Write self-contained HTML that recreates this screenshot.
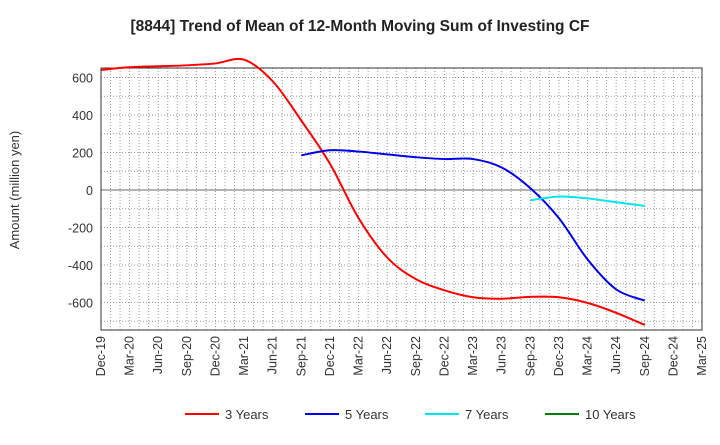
<!DOCTYPE html>
<html><head><meta charset="utf-8"><style>
body{margin:0;background:#fff;font-family:"Liberation Sans",sans-serif}
</style></head><body>
<svg id="c" width="720" height="440" xmlns="http://www.w3.org/2000/svg" font-family="Liberation Sans, sans-serif"></svg>
<script>
const categories=["Dec-19","Mar-20","Jun-20","Sep-20","Dec-20","Mar-21","Jun-21","Sep-21","Dec-21","Mar-22","Jun-22","Sep-22","Dec-22","Mar-23","Jun-23","Sep-23","Dec-23","Mar-24","Jun-24","Sep-24","Dec-24","Mar-25"];
const yTicks=[600,400,200,0,-200,-400,-600];
const s3=[640,655,660,665,675,695,580,370,140,-150,-360,-475,-535,-572,-580,-570,-572,-602,-655,-720];
const s5=[null,null,null,null,null,null,null,185,212,205,190,175,165,165,120,10,-150,-370,-530,-590];
const s7=[null,null,null,null,null,null,null,null,null,null,null,null,null,null,null,-55,-35,-45,-65,-85];
const s10=[];
const NS="http://www.w3.org/2000/svg",svg=document.getElementById('c');
const L=101,R=702,T=68,B=330;
const x=i=>L+(R-L)*i/21, y=v=>190-v*0.1875;
function el(t,a,p){const e=document.createElementNS(NS,t);for(const k in a)e.setAttribute(k,a[k]);(p||svg).appendChild(e);return e;}
const title=el('text',{x:360,y:31,'text-anchor':'middle','font-size':15.5,'font-weight':'bold',fill:'#222'});title.textContent="[8844]  Trend of Mean of 12-Month Moving Sum of Investing CF";


const g=el('g',{});


for(let m=0;m<=63;m++){const xx=L+(R-L)*m/63;el('line',{x1:xx,x2:xx,y1:T,y2:B,stroke:'#999','stroke-width':1,'stroke-dasharray':'1,2'},g);}
for(let v=-700;v<=600;v+=100){el('line',{x1:L,x2:R,y1:y(v),y2:y(v),stroke:'#999','stroke-width':1,'stroke-dasharray':'1,2'},g);}
el('line',{x1:L,x2:R,y1:y(0),y2:y(0),stroke:'#666','stroke-width':1},g);
const fr=el('rect',{x:L,y:T,width:R-L,height:B-T,fill:'none',stroke:'#333','stroke-width':1});


yTicks.forEach(v=>{const t=el('text',{x:L-8,y:y(v)+5,'text-anchor':'end','font-size':12.5,fill:'#333'});t.textContent=v;

});
categories.forEach((c,i)=>{const xx=x(i);const t=el('text',{transform:`translate(${xx+4},${B+6}) rotate(-90)`,'text-anchor':'end','font-size':12.5,fill:'#333'});t.textContent=c;

});
const yt=el('text',{transform:'translate(19,190) rotate(-90)','text-anchor':'middle','font-size':13,fill:'#333'});yt.textContent="Amount (million yen)";


function path(arr){const p=[];arr.forEach((v,i)=>{if(v!=null)p.push([x(i),y(v)]);});if(p.length<2)return "";let d=`M${p[0][0]},${p[0][1]}`;for(let i=0;i<p.length-1;i++){const p0=p[i-1]||p[i],p1=p[i],p2=p[i+1],p3=p[i+2]||p2;d+=`C${p1[0]+(p2[0]-p0[0])/6},${p1[1]+(p2[1]-p0[1])/6} ${p2[0]-(p3[0]-p1[0])/6},${p2[1]-(p3[1]-p1[1])/6} ${p2[0]},${p2[1]}`;}return d;}
[[s3,'#ff0000','series-3-years'],[s5,'#0000ee','series-5-years'],[s7,'#00e5ee','series-7-years'],[s10,'#008000','series-10-years']].forEach(([s,c,n])=>{const d=path(s);if(!d)return;const e=el('path',{d:d,fill:'none',stroke:c,'stroke-width':2});

});
[['3 Years','#ff0000',185],['5 Years','#0000ee',305],['7 Years','#00e5ee',425],['10 Years','#008000',545]].forEach(([t,c,xx])=>{const g2=el('g',{});


el('line',{x1:xx,x2:xx+34,y1:414,y2:414,stroke:c,'stroke-width':2},g2);const tx=el('text',{x:xx+40,y:419,'font-size':13,fill:'#333'},g2);tx.textContent=t;});
</script>
</body></html>
